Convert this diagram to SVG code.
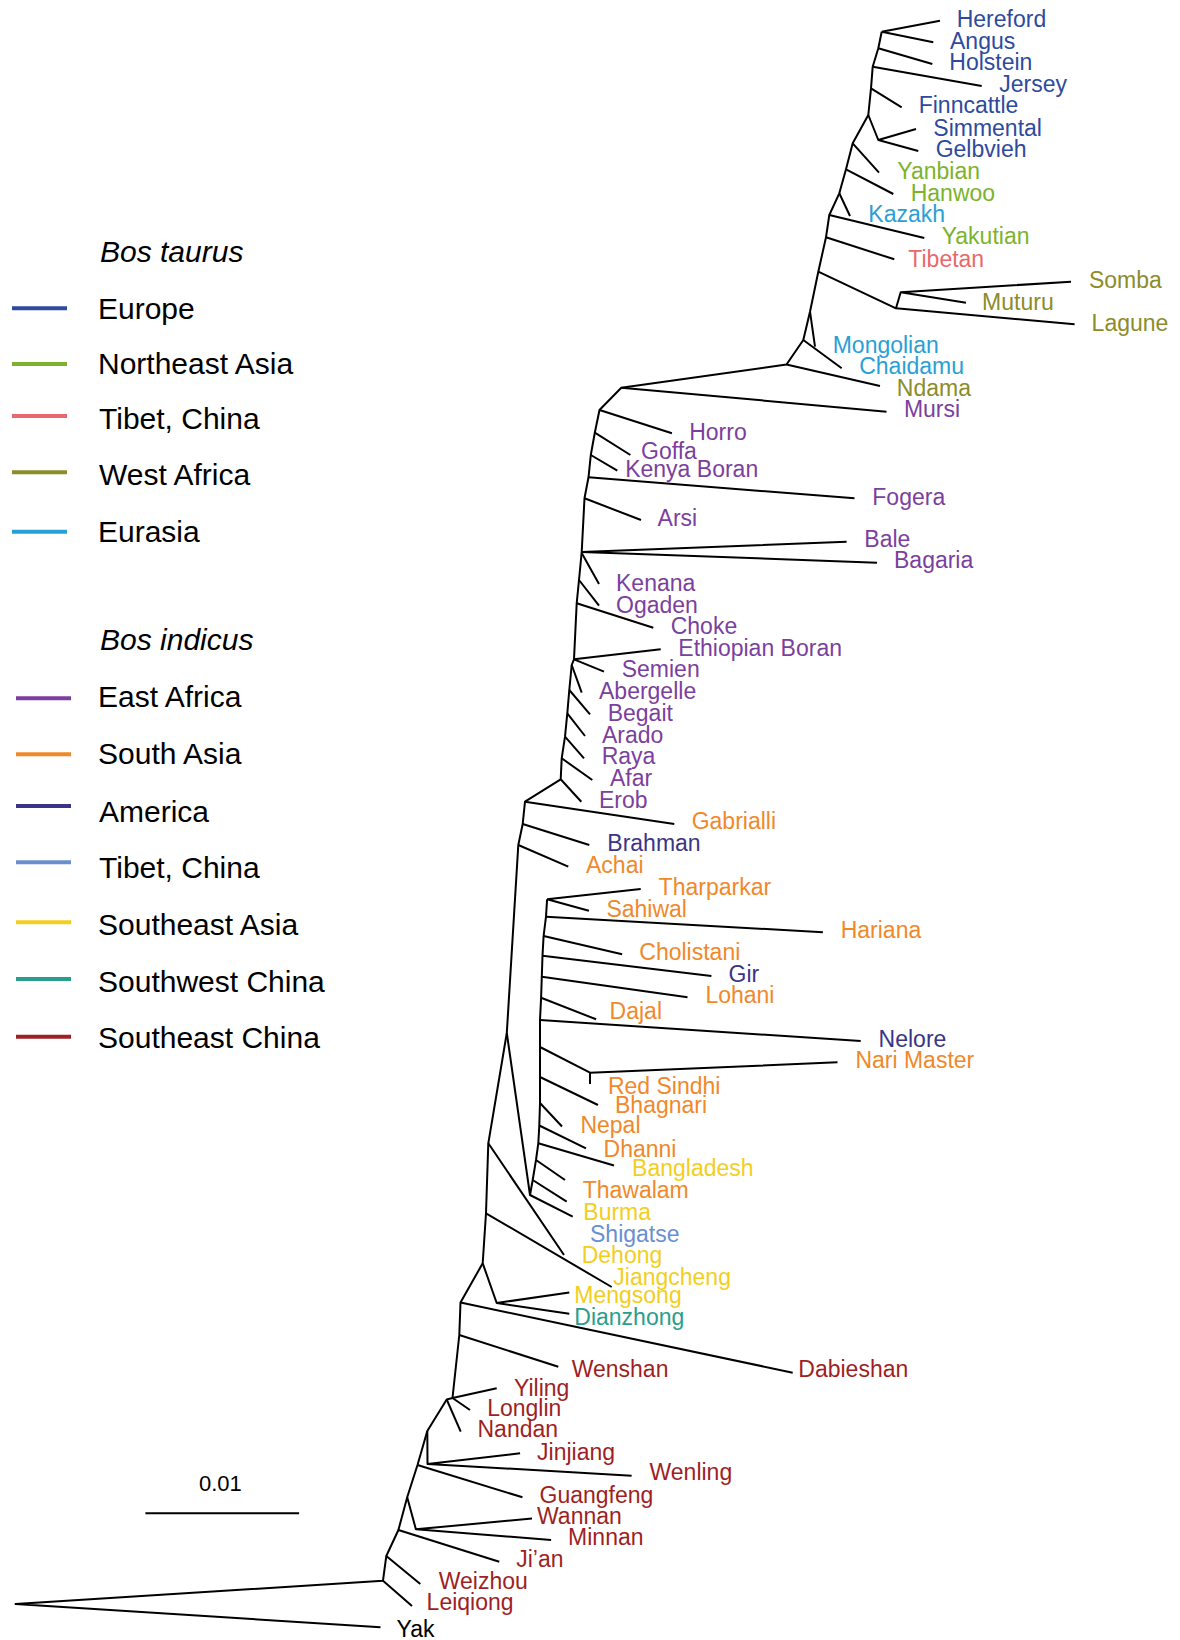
<svg xmlns="http://www.w3.org/2000/svg" width="1180" height="1640" viewBox="0 0 1180 1640">
<style>
text{font-family:"Liberation Sans",Arial,sans-serif;font-size:23px}
.lg{font-size:30px;fill:#000}
.it{font-style:italic}
.br{fill:none;stroke:#000;stroke-width:2;stroke-linejoin:round}
.ll{stroke-width:4}
.eu{fill:#2E4A9E}.ne{fill:#7DB32A}.tt{fill:#E8696B}.wa{fill:#8C8C2A}.ea{fill:#2A9FD6}
.af{fill:#7B3F9E}.sa{fill:#F0892A}.am{fill:#3B3486}.ti{fill:#6A8FD0}.se{fill:#F3CE1D}.sw{fill:#2A9E8C}.sc{fill:#9E1F24}.k{fill:#000}
</style>
<rect width="1180" height="1640" fill="#fff"/>
<g id="connectors" class="br">
<polyline points="881.7,31.7 878.3,48.3 872.7,66.7 871,88.3 868.3,115 852.7,143.3 846,169.3 839.3,193.3 829.3,215 826,237.3 818.3,271.7 810,311.7 803.3,340 786.5,364.5 621.3,387.7 599.5,410 594.8,432.7 590.8,455 588.5,477.3 584.5,498.3 581.7,552 579,580 576.7,603.3 574,659.3 571.7,665 569.3,690 567.3,713.3 565,736.7 561.7,758.3 560.7,779.3 525,801.7 522.7,824 518.3,845 506.8,1033 488.3,1143.3 486,1213.3 482.7,1263.3 460.5,1302.5 459.3,1335 452.5,1398 446.7,1399.5 427.3,1431 417.5,1465 407.2,1497.3 398.4,1530 386.3,1556 383,1580.7 15.5,1604 380.5,1627.3"/>
<path d="M881.7,31.7L940,20.7M881.7,31.7L933.3,42.3M878.3,48.3L932.3,64M872.7,66.7L981.7,86M871,88.3L901.7,107.3M868.3,115L878.3,140L916,129M878.3,140L918.3,151M852.7,143.3L879,172.7M846,169.3L893.3,194M839.3,193.3L850,216M829.3,215L924.3,238M826,237.3L894.3,259.3M818.3,271.7L896,308.3L900.7,292.3L1071,281.7M900.7,292.3L966,302.7M896,308.3L1074.6,324.3M810,311.7L815,346.7M803.3,340L841.7,368.3M786.5,364.5L880,386M621.3,387.7L886.5,411.7"/>
<path d="M599.5,410L671.9,433.3M594.8,432.7L630.4,455M590.8,455L617.3,470.7M588.5,477.3L854.5,498.3M584.5,498.3L641,520M581.7,552L846.6,541.7M581.7,552L877,562.7M581.7,553L599,584M579,580L599,605.7M576.7,603.3L653.3,627.7M574,659.3L660.7,649.3M574,659.3L604,671.7M571.7,665L581.7,692.7M569.3,690L590,714.3M567.3,713.3L585,736M565,736.7L584,758.3M561.7,758.3L592.3,780M560.7,779.3L581.3,801.7M525,801.7L674.3,824M522.7,824L589.3,845M518.3,845L568.3,866.7"/>
<polyline points="547.1,899.3 546,916.7 543.6,936 542.5,955.7 541.8,976.7 541.1,997.7 540,1020 540,1047 540,1077 540,1103 539.3,1125.5 538.3,1143.3 536,1160 532.7,1180 530,1195 506.8,1033"/>
<path d="M547.1,899.3L640.7,889M547.1,899.3L588.9,910.7M546,916.7L822.9,932.3M543.6,936L622.1,954.3M542.5,955.7L711.4,976M541.8,976.7L687.5,997.3M541.1,997.7L596.1,1019.3M540,1020L860.7,1041M540,1047L590,1072.7L837.5,1062.3M590,1072.7L590,1084M540,1077L598,1105M540,1103L562,1126.5M539.3,1125.5L586,1148.3M538.3,1143.3L614,1165.5M536,1160L565,1180M532.7,1180L566.7,1201.7M530,1195L572.7,1216.7"/>
<path d="M488.3,1143.3L564,1255M486,1213.3L611.7,1287M482.7,1263.3L496.7,1303L569.3,1292.5M496.7,1303L569.3,1313.7M460.5,1302.5L792.7,1372.7M459.3,1335L558.3,1366.7M452.5,1398L496.7,1388.3M452.5,1398L470,1410M446.7,1399.5L460.7,1431.7M427.3,1431L427.5,1464L520.1,1453.3M427.5,1464L631.6,1475.7M417.5,1465L522.5,1497.3M407.2,1497.3L415.9,1529.3L532,1518.5M415.9,1529.3L551.1,1540M398.4,1530L499.3,1561.7M386.3,1556L420.3,1584M383,1580.7L412,1606"/>
</g>
<g id="scalebar">
<line x1="145.4" y1="1513.3" x2="299.1" y2="1513.3" stroke="#000" stroke-width="2"/>
<text x="199" y="1491" class="k" style="font-size:22px">0.01</text>
</g>
<g id="legend">
<text x="100" y="262" class="lg it">Bos taurus</text>
<g id="leg-europe"><line x1="12" y1="308.3" x2="67" y2="308.3" stroke="#2E4A9E" class="ll"/><text x="98" y="319" class="lg">Europe</text></g>
<g id="leg-neasia"><line x1="12" y1="364" x2="67" y2="364" stroke="#7DB32A" class="ll"/><text x="98" y="374" class="lg">Northeast Asia</text></g>
<g id="leg-tibet1"><line x1="12" y1="416" x2="67" y2="416" stroke="#E8696B" class="ll"/><text x="99" y="429.3" class="lg">Tibet, China</text></g>
<g id="leg-wafrica"><line x1="12" y1="472.3" x2="67" y2="472.3" stroke="#8C8C2A" class="ll"/><text x="99" y="485" class="lg">West Africa</text></g>
<g id="leg-eurasia"><line x1="12" y1="531.7" x2="67" y2="531.7" stroke="#2A9FD6" class="ll"/><text x="98" y="541.7" class="lg">Eurasia</text></g>
<text x="100" y="650" class="lg it">Bos indicus</text>
<g id="leg-eafrica"><line x1="16" y1="698.3" x2="71" y2="698.3" stroke="#7B3F9E" class="ll"/><text x="98" y="707.3" class="lg">East Africa</text></g>
<g id="leg-sasia"><line x1="16" y1="754.3" x2="71" y2="754.3" stroke="#F0892A" class="ll"/><text x="98" y="764.3" class="lg">South Asia</text></g>
<g id="leg-america"><line x1="16" y1="806" x2="71" y2="806" stroke="#3B3486" class="ll"/><text x="99" y="821.7" class="lg">America</text></g>
<g id="leg-tibet2"><line x1="16" y1="862.3" x2="71" y2="862.3" stroke="#6A8FD0" class="ll"/><text x="99" y="878.3" class="lg">Tibet, China</text></g>
<g id="leg-seasia"><line x1="16" y1="922.3" x2="71" y2="922.3" stroke="#F3CE1D" class="ll"/><text x="98" y="935" class="lg">Southeast Asia</text></g>
<g id="leg-swchina"><line x1="16" y1="979" x2="71" y2="979" stroke="#2A9E8C" class="ll"/><text x="98" y="991.7" class="lg">Southwest China</text></g>
<g id="leg-sechina"><line x1="16" y1="1036.7" x2="71" y2="1036.7" stroke="#9E1F24" class="ll"/><text x="98" y="1048.3" class="lg">Southeast China</text></g>
</g>
<g id="n-hereford"><text x="956.7" y="26.7" class="eu">Hereford</text></g>
<g id="n-angus"><text x="950" y="49" class="eu">Angus</text></g>
<g id="n-holstein"><text x="949.3" y="70" class="eu">Holstein</text></g>
<g id="n-jersey"><text x="999.3" y="92" class="eu">Jersey</text></g>
<g id="n-finncattle"><text x="918.7" y="113.3" class="eu">Finncattle</text></g>
<g id="n-simmental"><text x="933.3" y="135.7" class="eu">Simmental</text></g>
<g id="n-gelbvieh"><text x="935.7" y="157.3" class="eu">Gelbvieh</text></g>
<g id="n-yanbian"><text x="897.3" y="179.3" class="ne">Yanbian</text></g>
<g id="n-hanwoo"><text x="910.7" y="200.7" class="ne">Hanwoo</text></g>
<g id="n-kazakh"><text x="868.3" y="222.3" class="ea">Kazakh</text></g>
<g id="n-yakutian"><text x="941.7" y="244" class="ne">Yakutian</text></g>
<g id="n-tibetan"><text x="908.3" y="267.3" class="tt">Tibetan</text></g>
<g id="n-somba"><text x="1088.9" y="288.3" class="wa">Somba</text></g>
<g id="n-muturu"><text x="982.1" y="310" class="wa">Muturu</text></g>
<g id="n-lagune"><text x="1091.6" y="331" class="wa">Lagune</text></g>
<g id="n-mongolian"><text x="832.7" y="352.7" class="ea">Mongolian</text></g>
<g id="n-chaidamu"><text x="859.2" y="374.3" class="ea">Chaidamu</text></g>
<g id="n-ndama"><text x="896.8" y="396" class="wa">Ndama</text></g>
<g id="n-mursi"><text x="903.9" y="417.3" class="af">Mursi</text></g>
<g id="n-horro"><text x="689.2" y="440" class="af">Horro</text></g>
<g id="n-goffa"><text x="641" y="459" class="af">Goffa</text></g>
<g id="n-kenyaboran"><text x="625.2" y="476.7" class="af">Kenya Boran</text></g>
<g id="n-fogera"><text x="872.3" y="505" class="af">Fogera</text></g>
<g id="n-arsi"><text x="657.6" y="526" class="af">Arsi</text></g>
<g id="n-bale"><text x="864.3" y="547.3" class="af">Bale</text></g>
<g id="n-bagaria"><text x="894" y="568.3" class="af">Bagaria</text></g>
<g id="n-kenana"><text x="616" y="591" class="af">Kenana</text></g>
<g id="n-ogaden"><text x="616" y="612.7" class="af">Ogaden</text></g>
<g id="n-choke"><text x="670.7" y="634" class="af">Choke</text></g>
<g id="n-ethboran"><text x="678.3" y="656" class="af">Ethiopian Boran</text></g>
<g id="n-semien"><text x="621.7" y="677.3" class="af">Semien</text></g>
<g id="n-abergelle"><text x="599" y="699" class="af">Abergelle</text></g>
<g id="n-begait"><text x="607.7" y="721" class="af">Begait</text></g>
<g id="n-arado"><text x="602" y="742.7" class="af">Arado</text></g>
<g id="n-raya"><text x="601.7" y="764.3" class="af">Raya</text></g>
<g id="n-afar"><text x="610" y="786" class="af">Afar</text></g>
<g id="n-erob"><text x="599" y="807.7" class="af">Erob</text></g>
<g id="n-gabrialli"><text x="691.7" y="829.3" class="sa">Gabrialli</text></g>
<g id="n-brahman"><text x="607.3" y="851" class="am">Brahman</text></g>
<g id="n-achai"><text x="586" y="872.7" class="sa">Achai</text></g>
<g id="n-tharparkar"><text x="658.6" y="895" class="sa">Tharparkar</text></g>
<g id="n-sahiwal"><text x="606.4" y="916.7" class="sa">Sahiwal</text></g>
<g id="n-hariana"><text x="840.7" y="938.3" class="sa">Hariana</text></g>
<g id="n-cholistani"><text x="639.3" y="960" class="sa">Cholistani</text></g>
<g id="n-gir"><text x="728.6" y="981.7" class="am">Gir</text></g>
<g id="n-lohani"><text x="705.4" y="1003.3" class="sa">Lohani</text></g>
<g id="n-dajal"><text x="609.6" y="1019" class="sa">Dajal</text></g>
<g id="n-nelore"><text x="878.6" y="1046.7" class="am">Nelore</text></g>
<g id="n-narimaster"><text x="855.4" y="1068.3" class="sa">Nari Master</text></g>
<g id="n-redsindhi"><text x="607.9" y="1094.3" class="sa">Red Sindhi</text></g>
<g id="n-bhagnari"><text x="615" y="1113.3" class="sa">Bhagnari</text></g>
<g id="n-nepal"><text x="580.4" y="1132.7" class="sa">Nepal</text></g>
<g id="n-dhanni"><text x="603.6" y="1156.7" class="sa">Dhanni</text></g>
<g id="n-bangladesh"><text x="632.1" y="1176" class="se">Bangladesh</text></g>
<g id="n-thawalam"><text x="582.7" y="1198" class="sa">Thawalam</text></g>
<g id="n-burma"><text x="583.3" y="1220" class="se">Burma</text></g>
<g id="n-shigatse"><text x="590" y="1242.3" class="ti">Shigatse</text></g>
<g id="n-dehong"><text x="581.7" y="1263.3" class="se">Dehong</text></g>
<g id="n-jiangcheng"><text x="613.3" y="1285" class="se">Jiangcheng</text></g>
<g id="n-mengsong"><text x="574.3" y="1302.7" class="se">Mengsong</text></g>
<g id="n-dianzhong"><text x="574.3" y="1325" class="sw">Dianzhong</text></g>
<g id="n-wenshan"><text x="571.7" y="1377.3" class="sc">Wenshan</text></g>
<g id="n-dabieshan"><text x="798.3" y="1377.3" class="sc">Dabieshan</text></g>
<g id="n-yiling"><text x="514" y="1395.5" class="sc">Yiling</text></g>
<g id="n-longlin"><text x="487.2" y="1416" class="sc">Longlin</text></g>
<g id="n-nandan"><text x="477.5" y="1437.3" class="sc">Nandan</text></g>
<g id="n-jinjiang"><text x="537.1" y="1460" class="sc">Jinjiang</text></g>
<g id="n-wenling"><text x="649.5" y="1480" class="sc">Wenling</text></g>
<g id="n-guangfeng"><text x="539.5" y="1503.3" class="sc">Guangfeng</text></g>
<g id="n-wannan"><text x="537" y="1524" class="sc">Wannan</text></g>
<g id="n-minnan"><text x="568.1" y="1545" class="sc">Minnan</text></g>
<g id="n-jian"><text x="516.2" y="1566.7" class="sc">Ji’an</text></g>
<g id="n-weizhou"><text x="438.7" y="1589.3" class="sc">Weizhou</text></g>
<g id="n-leiqiong"><text x="426.6" y="1610" class="sc">Leiqiong</text></g>
<g id="n-yak"><text x="396.5" y="1636.7" class="k">Yak</text></g>
</svg>
